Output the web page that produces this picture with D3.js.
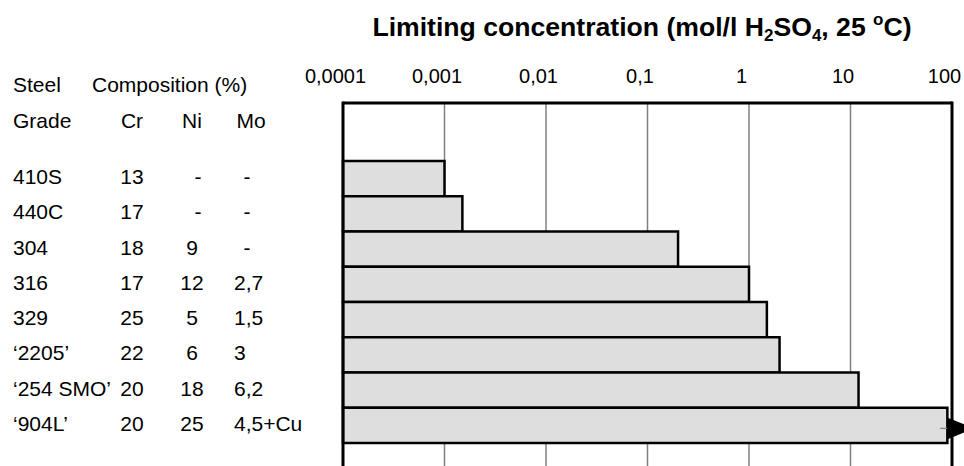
<!DOCTYPE html>
<html>
<head>
<meta charset="utf-8">
<script src="https://cdn.jsdelivr.net/npm/d3@7"></script>
<style>
  html, body { margin: 0; padding: 0; background: #fff; }
  svg { display: block; font-family: "Liberation Sans", Arial, sans-serif; }
</style>
</head>
<body>
<svg id="chart" width="964" height="466"></svg>
<script>
// ---- data ----
const grades = ["410S", "440C", "304", "316", "329", "\u20182205\u2019", "\u2018254 SMO\u2019", "\u2018904L\u2019"];
const crValues = ["13", "17", "18", "17", "25", "22", "20", "20"];
const niValues = ["-", "-", "9", "12", "5", "6", "18", "25"];
const moValues = ["-", "-", "-", "2,7", "1,5", "3", "6,2", "4,5+Cu"];
const limitingConc = [0.001, 0.0015, 0.2, 1.0, 1.5, 2.0, 12, 90];
const exceedsAxis = [false, false, false, false, false, false, false, true];
const tickValues = [0.0001, 0.001, 0.01, 0.1, 1, 10, 100];
const tickLabels = ["0,0001", "0,001", "0,01", "0,1", "1", "10", "100"];

// ---- layout ----
const svg = d3.select("#chart");
const plotTop = 103, plotBottom = 470;
const x = d3.scaleLog().domain([0.0001, 100]).range([343, 952]);
const y = d3.scaleBand().domain(grades).range([161, 443]).padding(0);

// title
const title = svg.append("text")
  .attr("x", 642).attr("y", 36)
  .attr("text-anchor", "middle")
  .attr("font-size", 26.6).attr("font-weight", "bold").attr("fill", "#000");
title.append("tspan").text("Limiting concentration (mol/l H");
title.append("tspan").text("2").attr("font-size", 17).attr("dy", 5);
title.append("tspan").text("SO").attr("dy", -5);
title.append("tspan").text("4").attr("font-size", 17).attr("dy", 5);
title.append("tspan").text(", 25 ").attr("dy", -5);
title.append("tspan").text("o").attr("font-size", 17).attr("dy", -11);
title.append("tspan").text("C)").attr("dy", 11);

// gridlines (inner decades)
svg.append("g").selectAll("line")
  .data(tickValues.slice(1, -1))
  .join("line")
  .attr("x1", d => x(d)).attr("x2", d => x(d))
  .attr("y1", plotTop).attr("y2", plotBottom)
  .attr("stroke", "#808080").attr("stroke-width", 1.5);

// top axis labels
const axis = d3.axisTop(x)
  .tickValues(tickValues)
  .tickFormat((d, i) => tickLabels[i])
  .tickSize(0).tickPadding(20);
const ag = svg.append("g").attr("transform", `translate(0,${plotTop})`).call(axis);
ag.select(".domain").remove();
ag.selectAll("text")
  .attr("font-size", 20)
  .attr("font-family", "'Liberation Sans', Arial, sans-serif")
  .attr("fill", "#000")
  .attr("dx", -8);

// bars
svg.append("g").selectAll("rect")
  .data(grades)
  .join("rect")
  .attr("x", x(0.0001))
  .attr("y", d => y(d))
  .attr("width", (d, i) => x(limitingConc[i]) - x(0.0001))
  .attr("height", y.bandwidth())
  .attr("fill", "#dedede")
  .attr("stroke", "#000").attr("stroke-width", 2.5);

// marker + arrow for the bar exceeding the axis
grades.forEach((g, i) => {
  if (!exceedsAxis[i]) return;
  const cy = y(g) + y.bandwidth() / 2 + 3;
  const xe = x(limitingConc[i]);
  svg.append("line")
    .attr("x1", xe - 7).attr("x2", xe)
    .attr("y1", cy).attr("y2", cy)
    .attr("stroke", "#808080").attr("stroke-width", 1.2);
  const xr = x(100);
  svg.append("path")
    .attr("d", `M${xr - 5},${cy - 11} L${xr + 22},${cy} L${xr - 5},${cy + 11} Z`)
    .attr("fill", "#000");
});

// frame
svg.append("line").attr("x1", x(0.0001)).attr("x2", x(100))
  .attr("y1", plotTop).attr("y2", plotTop)
  .attr("stroke", "#000").attr("stroke-width", 3);
svg.append("line").attr("x1", x(0.0001)).attr("x2", x(0.0001))
  .attr("y1", plotTop - 1.5).attr("y2", plotBottom)
  .attr("stroke", "#000").attr("stroke-width", 3);
svg.append("line").attr("x1", x(100)).attr("x2", x(100))
  .attr("y1", plotTop - 1.5).attr("y2", plotBottom)
  .attr("stroke", "#000").attr("stroke-width", 3);

// table on the left
const fs = 21;
const tbl = svg.append("g").attr("font-size", fs).attr("fill", "#000");
tbl.append("text").attr("x", 13).attr("y", 92).text("Steel");
tbl.append("text").attr("x", 92).attr("y", 92).text("Composition (%)");
tbl.append("text").attr("x", 13).attr("y", 128).text("Grade");
tbl.append("text").attr("x", 132).attr("y", 128).attr("text-anchor", "middle").text("Cr");
tbl.append("text").attr("x", 192).attr("y", 128).attr("text-anchor", "middle").text("Ni");
tbl.append("text").attr("x", 251).attr("y", 128).attr("text-anchor", "middle").text("Mo");

const rowY = g => y(g) + y.bandwidth() / 2 + 5.5;
tbl.append("g").selectAll("text").data(grades).join("text")
  .attr("x", 13).attr("y", d => rowY(d)).text(d => d);
tbl.append("g").selectAll("text").data(grades).join("text")
  .attr("x", 132).attr("y", d => rowY(d)).attr("text-anchor", "middle")
  .text((d, i) => crValues[i]);
tbl.append("g").selectAll("text").data(grades).join("text")
  .attr("x", (d, i) => niValues[i] === "-" ? 198 : 192).attr("y", d => rowY(d)).attr("text-anchor", "middle")
  .text((d, i) => niValues[i]);
tbl.append("g").selectAll("text").data(grades).join("text")
  .attr("x", (d, i) => moValues[i] === "-" ? 247 : 234).attr("y", d => rowY(d))
  .attr("text-anchor", (d, i) => moValues[i] === "-" ? "middle" : "start")
  .text((d, i) => moValues[i]);
</script>
</body>
</html>
